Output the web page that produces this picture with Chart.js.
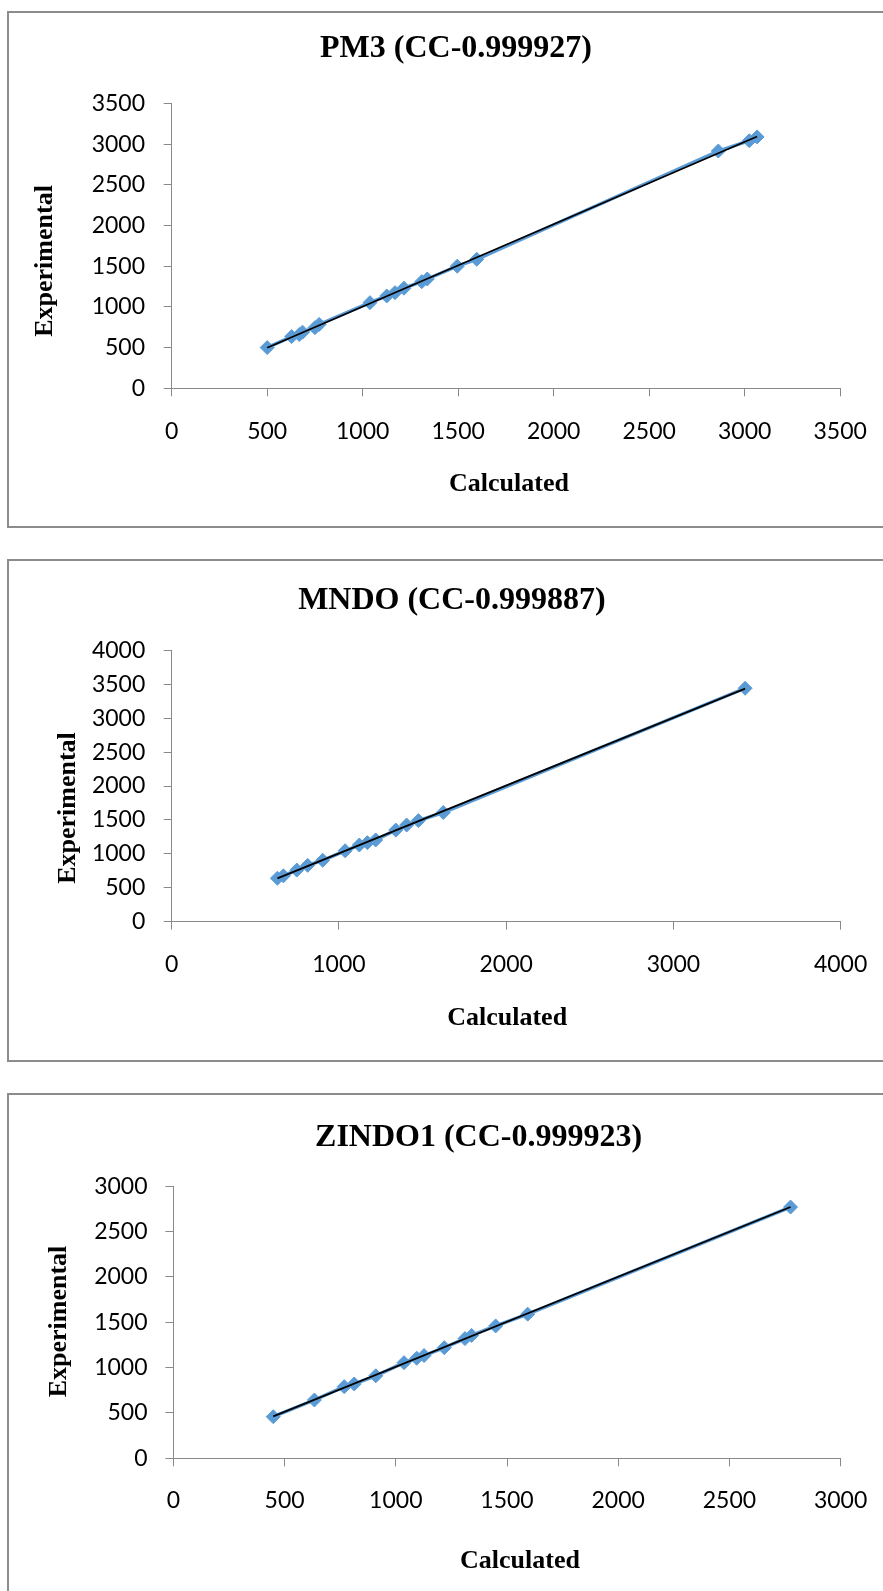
<!DOCTYPE html>
<html>
<head>
<meta charset="utf-8">
<script src="https://cdn.jsdelivr.net/npm/chart.js@4.4.1/dist/chart.umd.min.js"></script>
<style>
html,body{margin:0;padding:0;background:#fff;width:883px;height:1591px;overflow:hidden;position:relative}
.frame{position:absolute;left:7px;width:1000px;border:2px solid #8c8c8c;box-sizing:border-box}
canvas{position:absolute;left:0}
</style>
</head>
<body>
<div class="frame" style="top:11px;height:517px"></div>
<div class="frame" style="top:559px;height:503px"></div>
<div class="frame" style="top:1093px;height:600px"></div>
<canvas id="c1" width="900" height="530" style="top:0px"></canvas>
<canvas id="c2" width="900" height="535" style="top:530px"></canvas>
<canvas id="c3" width="900" height="526" style="top:1065px"></canvas>
<script>
// ---------- DATA ----------
const pm3Title = 'PM3 (CC-0.999927)';
const pm3Calculated   = [500, 628, 668, 685, 750, 772, 1038, 1126, 1169, 1216, 1309, 1338, 1495, 1597, 2862, 3024, 3065];
const pm3Experimental = [500, 635, 660, 690, 745, 785, 1052, 1134, 1175, 1230, 1310, 1343, 1500, 1585, 2915, 3042, 3088];
const pm3XTicks = [0, 500, 1000, 1500, 2000, 2500, 3000, 3500];
const pm3YTicks = [0, 500, 1000, 1500, 2000, 2500, 3000, 3500];

const mndoTitle = 'MNDO (CC-0.999887)';
const mndoCalculated   = [632, 668, 748, 813, 903, 1037, 1122, 1170, 1220, 1340, 1405, 1475, 1624, 3429];
const mndoExperimental = [640, 675, 760, 830, 905, 1045, 1130, 1165, 1205, 1350, 1425, 1490, 1610, 3443];
const mndoXTicks = [0, 1000, 2000, 3000, 4000];
const mndoYTicks = [0, 500, 1000, 1500, 2000, 2500, 3000, 3500, 4000];

const zindoTitle = 'ZINDO1 (CC-0.999923)';
const zindoCalculated   = [449, 634, 768, 813, 910, 1037, 1094, 1127, 1218, 1311, 1341, 1449, 1593, 2775];
const zindoExperimental = [459, 643, 790, 820, 910, 1055, 1104, 1133, 1220, 1320, 1355, 1460, 1590, 2771];
const zindoXTicks = [0, 500, 1000, 1500, 2000, 2500, 3000];
const zindoYTicks = [0, 500, 1000, 1500, 2000, 2500, 3000];

const xAxisTitle = 'Calculated';
const yAxisTitle = 'Experimental';

// ---------- HELPERS ----------
const SERIF = '"Liberation Serif", "Times New Roman", serif';
const BLUE = '#5B9BD5';
const AXIS_GRAY = '#898989';
const CANVAS_W = 900;
Chart.defaults.font.family = 'Lato, "Liberation Sans", sans-serif';
Chart.defaults.color = '#000';

function linearFit(xs, ys) {
  const n = xs.length;
  const mx = xs.reduce((a, b) => a + b, 0) / n;
  const my = ys.reduce((a, b) => a + b, 0) / n;
  let sxy = 0, sxx = 0;
  for (let i = 0; i < n; i++) { sxy += (xs[i] - mx) * (ys[i] - my); sxx += (xs[i] - mx) ** 2; }
  const b = sxy / sxx, a = my - b * mx;
  const x0 = Math.min(...xs), x1 = Math.max(...xs);
  return [{x: x0, y: a + b * x0}, {x: x1, y: a + b * x1}];
}

const textShift = {
  id: 'textShift',
  afterLayout(chart, args, o) {
    const tb = chart.titleBlock;
    if (tb && !tb._shifted) {
      const d = tb.draw;
      tb.draw = function (...a) { const c = this.ctx; c.save(); c.translate(o.titleDx || 0, 0); d.apply(this, a); c.restore(); };
      tb._shifted = true;
    }
    ['x', 'y'].forEach(k => {
      const s = chart.scales[k];
      if (s && !s._shifted) {
        const d = s.drawTitle;
        s.drawTitle = function (...a) {
          const c = this.ctx; c.save();
          c.translate(k === 'x' ? (o.xTitleDx || 0) : 0, k === 'y' ? (o.yTitleDy || 0) : 0);
          d.apply(this, a); c.restore();
        };
        s._shifted = true;
      }
    });
  }
};

function plain(v) { return String(v); }

function buildChart(id, title, calc, exp, xTicks, yTicks, L) {
  const points = calc.map((c, i) => ({x: c, y: exp[i]}));
  const tickFont = {family: 'Lato, "Liberation Sans", sans-serif', size: 23, lineHeight: 1.2};
  const axisTitleFont = {family: SERIF, size: 26, weight: 'bold', lineHeight: 1.2};
  new Chart(document.getElementById(id), {
    type: 'scatter',
    data: {
      datasets: [
        {
          label: 'Linear trend',
          data: linearFit(calc, exp),
          showLine: true,
          borderColor: '#000',
          borderWidth: 1.8,
          pointRadius: 0,
          order: 0
        },
        {
          label: 'Experimental vs Calculated',
          data: points,
          showLine: true,
          borderColor: BLUE,
          borderWidth: 3.5,
          backgroundColor: BLUE,
          pointBackgroundColor: BLUE,
          pointBorderColor: BLUE,
          pointStyle: 'rectRot',
          pointRadius: 7,
          pointBorderWidth: 1,
          order: 1
        }
      ]
    },
    options: {
      responsive: false,
      animation: false,
      devicePixelRatio: 1,
      layout: {padding: {left: 0, right: CANVAS_W - L.right, top: 0, bottom: 0}},
      plugins: {
        legend: {display: false},
        tooltip: {enabled: false},
        title: {
          display: true,
          text: title,
          color: '#000',
          font: {family: SERIF, size: 32, weight: 'bold', lineHeight: 1.2},
          padding: {top: L.titleTop, bottom: L.titleBottom}
        },
        textShift: {titleDx: L.titleDx, yTitleDy: L.yTitleDy, xTitleDx: L.xTitleDx}
      },
      scales: {
        x: {
          type: 'linear',
          min: xTicks[0],
          max: xTicks[xTicks.length - 1],
          ticks: {stepSize: xTicks[1] - xTicks[0], autoSkip: false, maxRotation: 0, padding: L.xTickPad, font: tickFont, color: '#000', callback: plain},
          grid: {display: true, drawOnChartArea: false, drawTicks: true, tickLength: 8, color: AXIS_GRAY, lineWidth: 1},
          border: {display: true, color: AXIS_GRAY, width: 1},
          title: {display: true, text: xAxisTitle, color: '#000', font: axisTitleFont, padding: {top: 0, bottom: L.xTitleBottom}},
          afterFit(s) { s.height = L.xH; }
        },
        y: {
          type: 'linear',
          min: yTicks[0],
          max: yTicks[yTicks.length - 1],
          ticks: {stepSize: yTicks[1] - yTicks[0], autoSkip: false, padding: L.yTickPad, font: tickFont, color: '#000', callback: plain},
          grid: {display: true, drawOnChartArea: false, drawTicks: true, tickLength: 8, color: AXIS_GRAY, lineWidth: 1},
          border: {display: true, color: AXIS_GRAY, width: 1},
          title: {display: true, text: yAxisTitle, color: '#000', font: axisTitleFont, padding: {top: L.yTitleTop, bottom: 0}},
          afterFit(s) { s.width = L.yW; }
        }
      }
    },
    plugins: [textShift]
  });
}

buildChart('c1', pm3Title, pm3Calculated, pm3Experimental, pm3XTicks, pm3YTicks, {
  right: 840.2, titleTop: 29.8, titleBottom: 35.2, titleDx: 35.9,
  xH: 141.7, xTickPad: 21.5, xTitleBottom: 29.7, xTitleDx: 3,
  yW: 171.7, yTickPad: 18.7, yTitleTop: 29.4, yTitleDy: 15.1
});
buildChart('c2', mndoTitle, mndoCalculated, mndoExperimental, mndoXTicks, mndoYTicks, {
  right: 840.6, titleTop: 51.4, titleBottom: 30.7, titleDx: 31.6,
  xH: 143.4, xTickPad: 21.2, xTitleBottom: 31.4, xTitleDx: 1,
  yW: 171.7, yTickPad: 18.4, yTitleTop: 53.1, yTitleDy: 22
});
buildChart('c3', zindoTitle, zindoCalculated, zindoExperimental, zindoXTicks, zindoYTicks, {
  right: 840.6, titleTop: 53.8, titleBottom: 29.1, titleDx: 58.3,
  xH: 132.7, xTickPad: 20.5, xTitleBottom: 14.4, xTitleDx: 13,
  yW: 173.4, yTickPad: 17.9, yTitleTop: 43.4, yTitleDy: -0.8
});
</script>
</body>
</html>
